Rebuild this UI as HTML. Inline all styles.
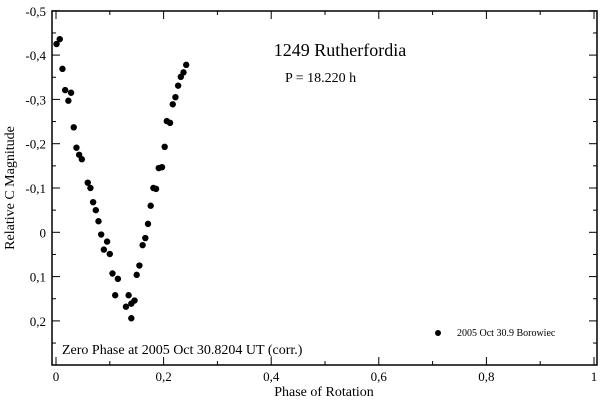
<!DOCTYPE html>
<html><head><meta charset="utf-8"><style>
body{margin:0;background:#fff}
svg{display:block;font-family:"Liberation Serif",serif}
</style></head><body>
<svg id="chart" width="600" height="400">
<rect x="52" y="11" width="545" height="354" fill="none" stroke="#000" stroke-width="1.5"/>
<g id="axes"></g>
<g id="points"></g>
<text x="340" y="56" font-size="18" text-anchor="middle">1249 Rutherfordia</text>
<text x="285" y="82" font-size="14">P = 18.220 h</text>
<text x="62" y="354" font-size="14">Zero Phase at 2005 Oct 30.8204 UT (corr.)</text>
<circle cx="438" cy="333" r="3" fill="#000"/>
<text x="457" y="336" font-size="10">2005 Oct 30.9 Borowiec</text>
<text x="324" y="396" font-size="14" text-anchor="middle">Phase of Rotation</text>
<text transform="translate(14,188) rotate(-90)" font-size="14" text-anchor="middle">Relative C Magnitude</text>
</svg>
<script>
const phases=[.001,.007,.012,.017,.028,.023,.033,.038,.043,.048,.059,.064,.069,.074,.079,.084,.089,.095,.100,.105,.110,.115,.130,.135,.140,.146,.140,.150,.155,.161,.166,.171,.176,.181,.186,.191,.197,.202,.206,.212,.217,.222,.227,.232,.237,.242];
const mags=[-.425,-.436,-.369,-.321,-.315,-.297,-.237,-.191,-.175,-.165,-.112,-.100,-.068,-.050,-.025,.005,.039,.021,.049,.093,.142,.105,.168,.142,.161,.154,.194,.096,.075,.029,.013,-.019,-.060,-.100,-.098,-.145,-.147,-.193,-.251,-.247,-.289,-.305,-.331,-.351,-.361,-.378];
const xTicks=[0,0.2,0.4,0.6,0.8,1];
const xTickLabels=["0","0,2","0,4","0,6","0,8","1"];
const yTicks=[-0.5,-0.4,-0.3,-0.2,-0.1,0,0.1,0.2];
const yTickLabels=["-0,5","-0,4","-0,3","-0,2","-0,1","0","0,1","0,2"];
const NS="http://www.w3.org/2000/svg";
const X=p=>56+p*538, Y=m=>232.3+m*443;
const axes=document.getElementById('axes'), pts=document.getElementById('points');
function mk(t,a,parent){const e=document.createElementNS(NS,t);for(const k in a)e.setAttribute(k,a[k]);parent.appendChild(e);return e;}
xTicks.forEach((v,i)=>{
 const x=X(v);
 const l=mk('line',{x1:x,x2:x,y1:365,y2:357,stroke:'#000'},axes);
 
 
 const l2=mk('line',{x1:x,x2:x,y1:11,y2:19,stroke:'#000'},axes);
 
 
 if(i<xTicks.length-1){const xm=X(v+0.1);
  const m1=mk('line',{x1:xm,x2:xm,y1:365,y2:361,stroke:'#000'},axes);
  
  
  const m2=mk('line',{x1:xm,x2:xm,y1:11,y2:15,stroke:'#000'},axes);
  
  }
 const t=mk('text',{x:x,y:381,'font-size':13,'text-anchor':'middle'},axes);
 t.textContent=xTickLabels[i];
 
 
});
yTicks.forEach((v,i)=>{
 const y=Y(v);
 const l=mk('line',{x1:52,x2:60,y1:y,y2:y,stroke:'#000'},axes);
 
 
 const l2=mk('line',{x1:597,x2:589,y1:y,y2:y,stroke:'#000'},axes);
 
 
 const ym=Y(v+0.05);
 const m1=mk('line',{x1:52,x2:56,y1:ym,y2:ym,stroke:'#000'},axes);
 
 
 const m2=mk('line',{x1:597,x2:593,y1:ym,y2:ym,stroke:'#000'},axes);
 
 
 const t=mk('text',{x:46,y:y+5,'font-size':13,'text-anchor':'end'},axes);
 t.textContent=yTickLabels[i];
 
 
});
phases.forEach((p,i)=>{
 const c=mk('circle',{cx:X(p),cy:Y(mags[i]),r:3.2,fill:'#000'},pts);
 
 
});
</script>
</body></html>
